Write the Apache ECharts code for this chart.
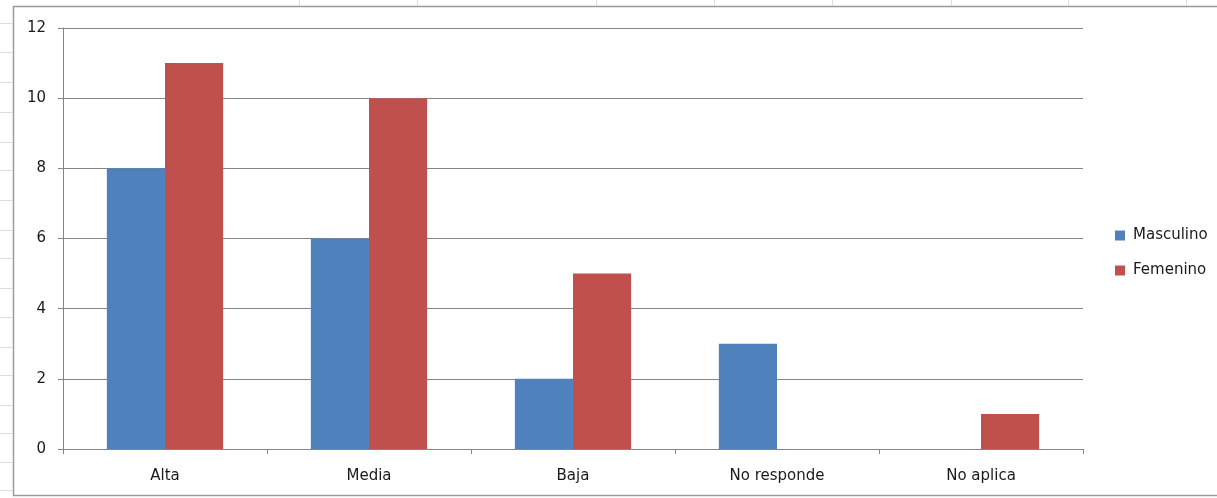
<!DOCTYPE html>
<html>
<head>
<meta charset="utf-8">
<script src="https://cdn.jsdelivr.net/npm/echarts@6/dist/echarts.min.js"></script>
<style>
html,body{margin:0;padding:0;background:#fff;}
#chart{width:1217px;height:498px;}
</style>
</head>
<body>
<div id="chart"></div>
<script>
const categories = ['Alta', 'Media', 'Baja', 'No responde', 'No aplica'];
const masculino = [8, 6, 2, 3, 0];
const femenino = [11, 10, 5, 0, 1];
const seriesNames = ['Masculino', 'Femenino'];
const yTicks = { min: 0, max: 12, interval: 2 };

const sheetRows = [23, 52, 82, 112, 142, 170, 200, 230, 258, 288, 317, 347, 375, 405, 433, 462, 490];
const sheetCols = [299, 417, 596, 714, 832, 951, 1068, 1186];

const font = '"DejaVu Sans", "Noto Sans", sans-serif';
const chart = echarts.init(document.getElementById('chart'));

const deco = [];
sheetRows.forEach(y => deco.push({type:'line', shape:{x1:0,y1:y+0.5,x2:13,y2:y+0.5}, style:{stroke:'#dadcdd',lineWidth:1}, silent:true}));
sheetCols.forEach(x => deco.push({type:'line', shape:{x1:x+0.5,y1:0,x2:x+0.5,y2:6}, style:{stroke:'#dadcdd',lineWidth:1}, silent:true}));
deco.push({type:'rect', shape:{x:13.5,y:6.5,width:1300,height:489}, style:{fill:'none',stroke:'#9a9a9a',lineWidth:1.5}, silent:true, z:-1});

chart.setOption({
  animation: false,
  backgroundColor: '#fff',
  textStyle: { fontFamily: font },
  graphic: deco,
  grid: { left: 63, right: 134, top: 28, bottom: 49, containLabel: false },
  legend: {
    orient: 'vertical', left: 1110, top: 223,
    itemWidth: 10, itemHeight: 10, itemGap: 20,
    icon: 'rect',
    textStyle: { fontFamily: font, fontSize: 15, color: '#1a1a1a', padding: [0,0,0,3] },
    data: seriesNames
  },
  xAxis: {
    type: 'category', data: categories,
    axisLine: { lineStyle: { color: '#868686', width: 1 } },
    axisTick: { show: true, length: 5, alignWithLabel: false, lineStyle: { color: '#868686' } },
    axisLabel: { fontFamily: font, fontSize: 15, color: '#1a1a1a', margin: 20 }
  },
  yAxis: {
    type: 'value', min: yTicks.min, max: yTicks.max, interval: yTicks.interval,
    axisLine: { show: true, lineStyle: { color: '#868686', width: 1 } },
    axisTick: { show: true, length: 5, lineStyle: { color: '#868686' } },
    splitLine: { lineStyle: { color: '#868686', width: 1 } },
    axisLabel: { fontFamily: font, fontSize: 15, color: '#1a1a1a', margin: 17 }
  },
  series: [
    { name: seriesNames[0], type: 'bar', data: masculino, barGap: '0%', barCategoryGap: '43%', itemStyle: { color: '#4f81bd' } },
    { name: seriesNames[1], type: 'bar', data: femenino, barGap: '0%', barCategoryGap: '43%', itemStyle: { color: '#c0504d' } }
  ]
});
</script>
</body>
</html>
